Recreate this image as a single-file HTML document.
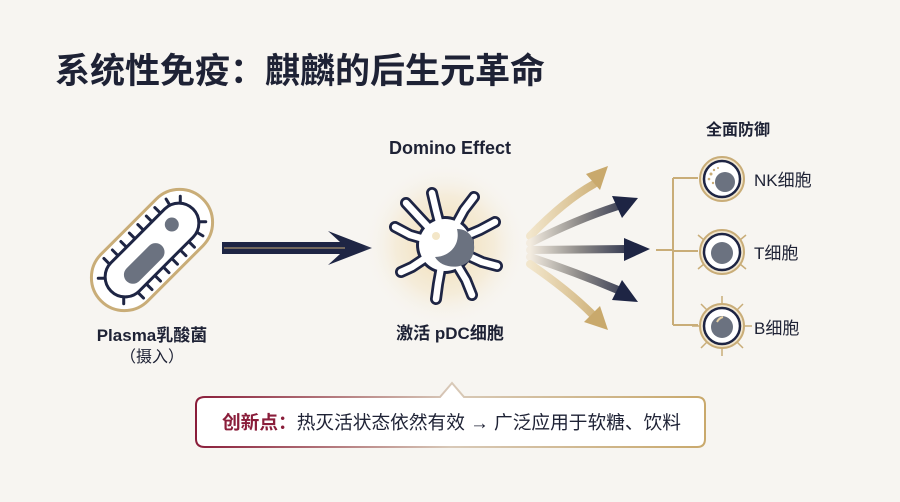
<!DOCTYPE html>
<html><head><meta charset="utf-8"><style>
html,body{margin:0;padding:0;width:900px;height:502px;overflow:hidden;background:#f7f5f1}
svg{display:block}
text{font-family:"Liberation Sans","Noto Sans CJK SC",sans-serif}
</style></head><body>
<svg width="900" height="502" viewBox="0 0 900 502">
<defs>
<radialGradient id="glow" cx="0.5" cy="0.5" r="0.5">
<stop offset="0" stop-color="#efd7a4" stop-opacity="0.9"/>
<stop offset="0.6" stop-color="#f3e3c2" stop-opacity="0.5"/>
<stop offset="1" stop-color="#f7f5f1" stop-opacity="0"/>
</radialGradient>
<linearGradient id="fanN" gradientUnits="userSpaceOnUse" x1="530" y1="0" x2="640" y2="0"><stop offset="0" stop-color="#f3ece0"/><stop offset="0.45" stop-color="#8d8a88"/><stop offset="1" stop-color="#1e2544"/></linearGradient>
<linearGradient id="fanG" gradientUnits="userSpaceOnUse" x1="530" y1="0" x2="610" y2="0"><stop offset="0" stop-color="#f2e6cc"/><stop offset="1" stop-color="#c9a96c"/></linearGradient>
<linearGradient id="box" x1="0" x2="1"><stop offset="0" stop-color="#8a1d3a"/><stop offset="0.5" stop-color="#d8c9b8"/><stop offset="1" stop-color="#c9a96c"/></linearGradient>
</defs>
<rect width="900" height="502" fill="#f7f5f1"/>
<text x="55" y="83" font-size="35" font-weight="bold" fill="#1e2235">系统性免疫：麒麟的后生元革命</text>

<g transform="translate(152,250) rotate(-45)">
<rect x="-72" y="-33" width="144" height="66" rx="33" fill="#fff" stroke="#c9ad78" stroke-width="3"/>
<g stroke="#1e2544" stroke-width="3" stroke-linecap="round">
<line x1="-40" y1="-20" x2="-40" y2="-28"/><line x1="-28" y1="-20" x2="-28" y2="-28"/><line x1="-16" y1="-20" x2="-16" y2="-28"/><line x1="-4" y1="-20" x2="-4" y2="-28"/><line x1="8" y1="-20" x2="8" y2="-28"/><line x1="20" y1="-20" x2="20" y2="-28"/><line x1="32" y1="-20" x2="32" y2="-28"/><line x1="44" y1="-18" x2="46" y2="-26"/>
<line x1="-40" y1="20" x2="-40" y2="28"/><line x1="-28" y1="20" x2="-28" y2="28"/><line x1="-16" y1="20" x2="-16" y2="28"/><line x1="-4" y1="20" x2="-4" y2="28"/><line x1="8" y1="20" x2="8" y2="28"/><line x1="20" y1="20" x2="20" y2="28"/><line x1="32" y1="20" x2="32" y2="28"/><line x1="44" y1="18" x2="46" y2="26"/>
<line x1="-52" y1="-12" x2="-58" y2="-18"/><line x1="-52" y1="12" x2="-58" y2="18"/><line x1="52" y1="-12" x2="58" y2="-18"/><line x1="52" y1="12" x2="58" y2="18"/>
</g>
<rect x="-58" y="-20" width="116" height="40" rx="20" fill="#fff" stroke="#1e2544" stroke-width="3"/>
<rect x="-40" y="-5" width="50" height="18" rx="9" fill="#6b7280"/>
<circle cx="32" cy="-4" r="7" fill="#6b7280"/>
</g>
<text x="152" y="341" font-size="17" font-weight="bold" fill="#1e2235" text-anchor="middle">Plasma乳酸菌</text>
<text x="152" y="362" font-size="16" fill="#1e2235" text-anchor="middle">（摄入）</text>

<polygon points="222,242 340,242 328,231 372,248 328,265 340,254 222,254" fill="#1e2544"/>
<line x1="224" y1="248" x2="345" y2="248" stroke="#c9ad78" stroke-width="1"/>

<circle cx="445" cy="245" r="82" fill="url(#glow)"/>
<g stroke-linecap="round" stroke-linejoin="round" fill="none">
<g stroke="#1e2544" stroke-width="12">
<polyline points="445,245 436,210 432,193"/>
<polyline points="445,245 464,210 474,197"/>
<polyline points="445,245 480,230 495,222"/>
<polyline points="445,245 482,262 497,266"/>
<polyline points="445,245 466,280 472,295"/>
<polyline points="445,245 438,284 436,299"/>
<polyline points="445,245 412,267 401,272"/>
<polyline points="445,245 410,235 395,227"/>
<polyline points="445,245 418,216 406,203"/>
</g>
</g>
<circle cx="445" cy="245" r="29" fill="#1e2544"/>
<g stroke-linecap="round" stroke-linejoin="round" fill="none">
<g stroke="#fff" stroke-width="6.5">
<polyline points="445,245 436,210 432,193"/>
<polyline points="445,245 464,210 474,197"/>
<polyline points="445,245 480,230 495,222"/>
<polyline points="445,245 482,262 497,266"/>
<polyline points="445,245 466,280 472,295"/>
<polyline points="445,245 438,284 436,299"/>
<polyline points="445,245 412,267 401,272"/>
<polyline points="445,245 410,235 395,227"/>
<polyline points="445,245 418,216 406,203"/>
</g>
</g>
<circle cx="445" cy="245" r="26" fill="#fff"/>
<path d="M457,229 C476,229 478,252 469,261 C460,270 441,268 435,257 C448,257 461,246 457,229 Z" fill="#6b7280"/>
<circle cx="436" cy="236" r="4" fill="#f3e6c8"/>
<text x="450" y="154" font-size="18" font-weight="bold" fill="#1e2235" text-anchor="middle">Domino Effect</text>
<text x="450" y="339" font-size="17" font-weight="bold" fill="#1e2235" text-anchor="middle">激活 pDC细胞</text>

<g fill="none" stroke-width="8" stroke-linecap="round">
<path d="M530,236 Q565,200 594,184" stroke="url(#fanG)"/>
<path d="M530,243 Q575,220 618,206" stroke="url(#fanN)"/>
<path d="M530,250 L628,249" stroke="url(#fanN)"/>
<path d="M530,257 Q575,272 618,290" stroke="url(#fanN)"/>
<path d="M530,264 Q568,290 592,314" stroke="url(#fanG)"/>
</g>
<polygon points="586,174 608,166 600,190" fill="#c9a96c"/>
<polygon points="612,196 638,198 622,218" fill="#1e2544"/>
<polygon points="624,238 650,249 624,261" fill="#1e2544"/>
<polygon points="622,280 638,302 612,300" fill="#1e2544"/>
<polygon points="600,306 608,330 584,322" fill="#c9a96c"/>

<g stroke="#c9ad78" stroke-width="2" fill="none">
<line x1="656" y1="250" x2="673" y2="250"/>
<line x1="673" y1="178" x2="673" y2="325"/>
<line x1="673" y1="178" x2="698" y2="178"/>
<line x1="673" y1="251" x2="698" y2="251"/>
<line x1="673" y1="325" x2="698" y2="325"/>
</g>
<text x="738" y="135" font-size="16" font-weight="bold" fill="#1e2235" text-anchor="middle">全面防御</text>

<circle cx="722" cy="179" r="22" fill="#f1e6cf" stroke="#c9ad78" stroke-width="2"/>
<circle cx="722" cy="179" r="18" fill="#fff" stroke="#1e2544" stroke-width="2.5"/>
<circle cx="725" cy="182" r="10" fill="#6b7280"/>
<g fill="#c9ad78"><circle cx="711" cy="174" r="1.5"/><circle cx="714" cy="170" r="1.2"/><circle cx="709" cy="179" r="1.3"/><circle cx="713" cy="183" r="1.2"/><circle cx="718" cy="168" r="1"/></g>
<text x="754" y="186" font-size="17" fill="#1e2235">NK细胞</text>
<g stroke="#c9ad78" stroke-width="1.5" fill="none"><path d="M704,240 l-6,-5"/><path d="M740,240 l6,-5"/><path d="M704,264 l-6,5"/><path d="M740,264 l6,5"/></g>
<circle cx="722" cy="252" r="22" fill="#f1e6cf" stroke="#c9ad78" stroke-width="2"/>
<circle cx="722" cy="252" r="18" fill="#fff" stroke="#1e2544" stroke-width="2.5"/>
<circle cx="722" cy="253" r="11" fill="#6b7280"/>
<text x="754" y="259" font-size="17" fill="#1e2235">T细胞</text>
<g stroke="#c9ad78" stroke-width="1.5" fill="none"><path d="M722,304 v-8"/><path d="M722,348 v8"/><path d="M700,326 h-8"/><path d="M744,326 h8"/><path d="M707,310 l-6,-6"/><path d="M737,310 l6,-6"/><path d="M707,342 l-6,6"/><path d="M737,342 l6,6"/></g>
<circle cx="722" cy="326" r="22" fill="#f1e6cf" stroke="#c9ad78" stroke-width="2"/>
<circle cx="722" cy="326" r="18" fill="#fff" stroke="#1e2544" stroke-width="2.5"/>
<circle cx="722" cy="327" r="11" fill="#6b7280"/>
<path d="M717,322 q2,-4 6,-5" stroke="#e8d3a6" stroke-width="2" fill="none"/>
<text x="754" y="334" font-size="17" fill="#1e2235">B细胞</text>

<path d="M205,397 L440,397 L452,383 L464,397 L697,397 Q705,397 705,405 L705,439 Q705,447 697,447 L205,447 Q196,447 196,439 L196,405 Q196,397 205,397Z" fill="#fff" stroke="url(#box)" stroke-width="2"/>
<text x="222" y="429" font-size="18.7" fill="#1e2235"><tspan font-weight="bold" fill="#8a1d3a">创新点：</tspan>热灭活状态依然有效 → 广泛应用于软糖、饮料</text>
</svg>
</body></html>
